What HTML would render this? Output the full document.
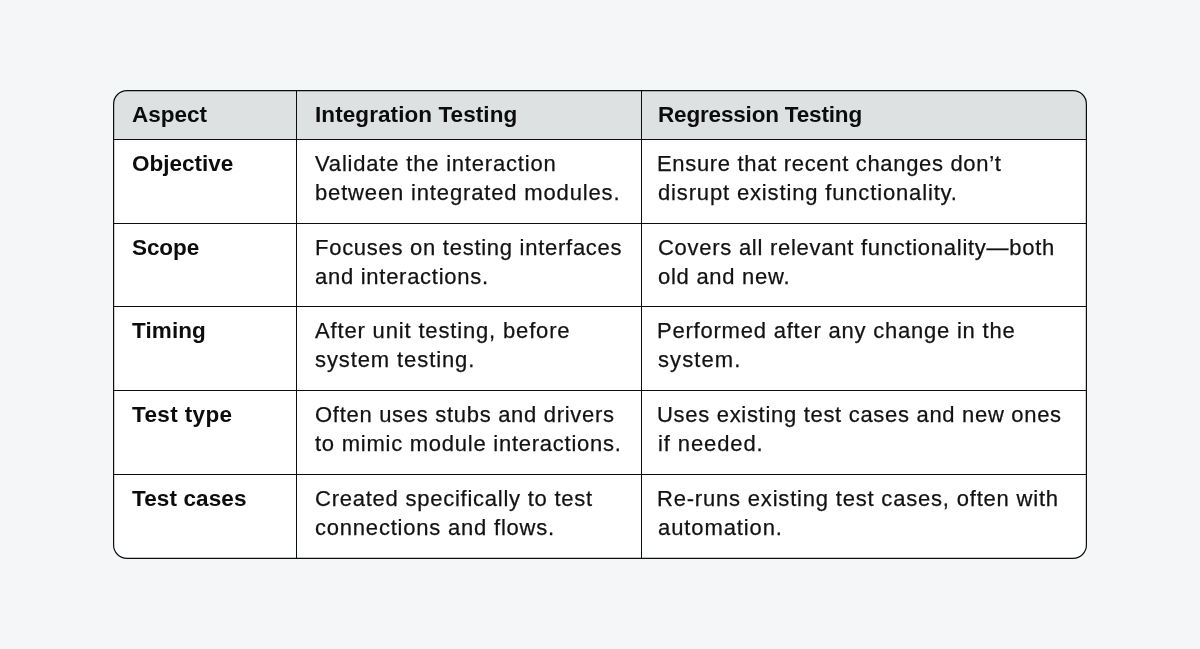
<!DOCTYPE html>
<html><head><meta charset="utf-8"><style>
html,body{margin:0;padding:0;}
body{width:1200px;height:649px;background:#f4f6f8;position:relative;overflow:hidden;font-family:"Liberation Sans",sans-serif;}
.tbl{position:absolute;left:114px;top:91px;width:972px;height:467px;border-radius:13.0px;background:#fff;overflow:hidden;}
svg.bd{position:absolute;left:0;top:0;}
.hd{position:absolute;left:0;top:0;width:972px;height:48px;background:#dee1e2;}
.h{position:absolute;left:0;width:972px;height:1px;background:#0b0d0e;}
.v{position:absolute;top:0;width:1px;height:467px;background:#0b0d0e;}
.t{position:absolute;white-space:nowrap;font-size:22.0px;line-height:29px;color:#121212;-webkit-text-stroke:0.25px #121212;will-change:transform;}
.b{font-weight:700;font-size:22.5px;color:#0c0c0c;-webkit-text-stroke:0.0px #0c0c0c;}
</style></head><body>
<div class="tbl">
<div class="hd"></div>
<div class="h" style="top:48px"></div>
<div class="h" style="top:132px"></div>
<div class="h" style="top:215px"></div>
<div class="h" style="top:299px"></div>
<div class="h" style="top:383px"></div>
<div class="v" style="left:182px"></div>
<div class="v" style="left:527px"></div>
</div>
<svg class="bd" width="1200" height="649"><rect x="113.6" y="90.6" width="972.8" height="467.8" rx="13.4" ry="13.4" fill="none" stroke="#0b0d0e" stroke-width="1.2"/></svg>
<div class="t b" style="left:132px;top:99.70px;letter-spacing:-0.020px">Aspect</div>
<div class="t b" style="left:315px;top:99.70px;letter-spacing:0.078px">Integration Testing</div>
<div class="t b" style="left:658px;top:99.70px;letter-spacing:-0.176px">Regression Testing</div>
<div class="t b" style="left:132px;top:148.70px;letter-spacing:0.000px">Objective</div>
<div class="t" style="left:315px;top:148.88px;letter-spacing:0.804px">Validate the interaction</div>
<div class="t" style="left:315px;top:177.88px;letter-spacing:0.846px">between integrated modules.</div>
<div class="t" style="left:657px;top:148.88px;letter-spacing:0.677px">Ensure that recent changes don’t</div>
<div class="t" style="left:658px;top:177.88px;letter-spacing:0.847px">disrupt existing functionality.</div>
<div class="t b" style="left:132px;top:232.70px;letter-spacing:-0.075px">Scope</div>
<div class="t" style="left:314.5px;top:232.88px;letter-spacing:0.729px">Focuses on testing interfaces</div>
<div class="t" style="left:315px;top:261.88px;letter-spacing:0.725px">and interactions.</div>
<div class="t" style="left:658px;top:232.88px;letter-spacing:0.730px">Covers all relevant functionality—both</div>
<div class="t" style="left:658px;top:261.88px;letter-spacing:0.727px">old and new.</div>
<div class="t b" style="left:132px;top:315.70px;letter-spacing:0.100px">Timing</div>
<div class="t" style="left:315px;top:315.88px;letter-spacing:0.840px">After unit testing, before</div>
<div class="t" style="left:315px;top:344.88px;letter-spacing:0.900px">system testing.</div>
<div class="t" style="left:657px;top:315.88px;letter-spacing:0.781px">Performed after any change in the</div>
<div class="t" style="left:658px;top:344.88px;letter-spacing:1.100px">system.</div>
<div class="t b" style="left:132px;top:399.70px;letter-spacing:0.375px">Test type</div>
<div class="t" style="left:315px;top:399.88px;letter-spacing:0.704px">Often uses stubs and drivers</div>
<div class="t" style="left:315px;top:428.88px;letter-spacing:0.750px">to mimic module interactions.</div>
<div class="t" style="left:657px;top:399.88px;letter-spacing:0.694px">Uses existing test cases and new ones</div>
<div class="t" style="left:658px;top:428.88px;letter-spacing:0.889px">if needed.</div>
<div class="t b" style="left:132px;top:483.70px;letter-spacing:0.111px">Test cases</div>
<div class="t" style="left:315px;top:483.88px;letter-spacing:0.756px">Created specifically to test</div>
<div class="t" style="left:315px;top:512.88px;letter-spacing:0.790px">connections and flows.</div>
<div class="t" style="left:657px;top:483.88px;letter-spacing:0.805px">Re-runs existing test cases, often with</div>
<div class="t" style="left:658px;top:512.88px;letter-spacing:0.900px">automation.</div>
</body></html>
